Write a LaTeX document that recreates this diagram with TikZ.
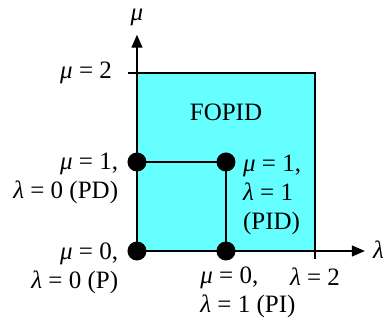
\documentclass[tikz,border=0pt]{standalone}
\usepackage{fontspec}
\setmainfont{Liberation Serif}
\usetikzlibrary{arrows.meta,positioning}
\definecolor{fopidcyan}{RGB}{102,255,255}
\newcommand{\mval}{\textit{μ}}
\newcommand{\lval}{\textit{λ}}

\begin{document}
\begin{tikzpicture}[x=89pt,y=89pt,font=\fontsize{25}{29}\selectfont,
  dot/.style={circle,fill=black,inner sep=0pt,minimum size=19pt},
  lbl/.style={inner sep=0pt},
  axisline/.style={-{Triangle[length=13pt,width=11pt]},line width=1.2pt},
  square/.style={line width=2.6pt}]
\useasboundingbox (-1.539,-0.775) rectangle (2.764,2.820);

% FOPID region
\fill[fopidcyan] (0,0) rectangle (2,2);
\coordinate (tl) at (0,2);
\coordinate (tr) at (2,2);
\coordinate (br) at (2,-0.09);
\coordinate (tk) at (-0.1,2);
\draw[line width=1.1pt] (tk) -- (tl) -- (tr) -- (br);

% axes
\coordinate (o) at (0,0);
\coordinate (ytip) at (0,2.43);
\coordinate (xtip) at (2.56,0);
\draw[axisline] (o) -- (ytip);
\draw[axisline] (o) -- (xtip);
\node[lbl] (mu) at (0,2.62) {\mval};
\node[lbl,anchor=west] (lam) at (2.65,0.02) {\lval};

% corner points
\node[dot] (p) at (0,0) {};
\node[dot] (pi) at (1,0) {};
\node[dot] (pd) at (0,1) {};
\node[dot] (pid) at (1,1) {};
\draw[square] (p.center) -- (pd.center) -- (pid.center) -- (pi.center) -- (p.center);

% labels
\node[lbl] (fopid) at (1,1.56) {FOPID};
\node[lbl,anchor=east] (mu2) at (-0.28,2) {\mval\ = 2};
\node[lbl,anchor=center] (lam2) at (2,-0.29) {\lval\ = 2};
\node[lbl,anchor=east,align=right] (pdlbl) at (-0.21,0.81) {\mval\ = 1,\\\lval\ = 0 (PD)};
\node[lbl,anchor=west,align=left] (pidlbl) at (1.19,0.63) {\mval\ = 1,\\\lval\ = 1\\(PID)};
\node[lbl,anchor=east,align=right] (plbl) at (-0.21,-0.20) {\mval\ = 0,\\\lval\ = 0 (P)};
\node[lbl,anchor=west,align=left] (pilbl) at (0.71,-0.46) {\mval\ = 0,\\\lval\ = 1 (PI)};
\end{tikzpicture}
\end{document}
